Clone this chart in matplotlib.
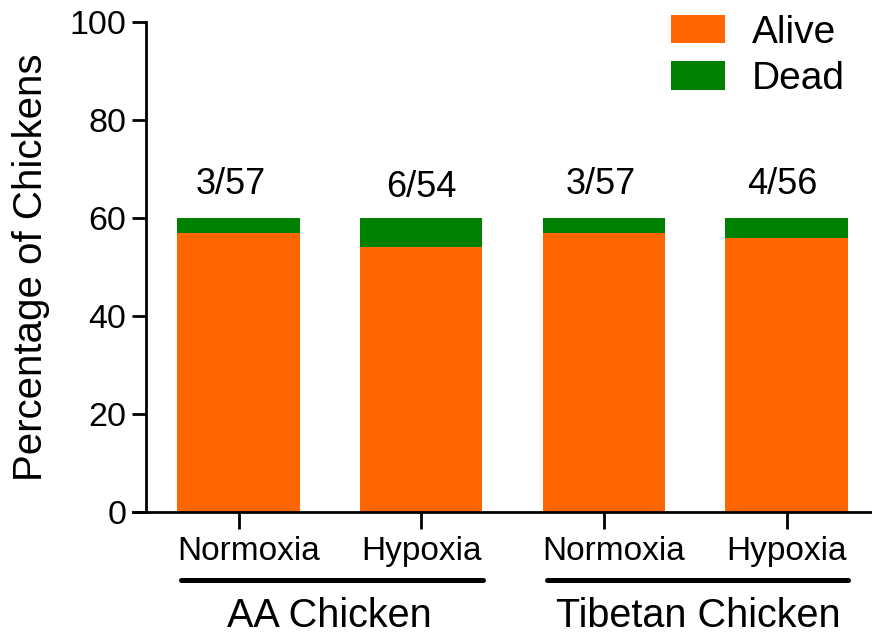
import matplotlib
matplotlib.use("Agg")
import matplotlib.pyplot as plt
import matplotlib.transforms as mtransforms
from matplotlib.patches import Patch
from matplotlib.lines import Line2D

plt.rcParams['font.family'] = ['Liberation Sans', 'DejaVu Sans']

conditions = ["Normoxia", "Hypoxia", "Normoxia", "Hypoxia"]
groups = ["AA Chicken", "Tibetan Chicken"]
alive = [57, 54, 57, 56]
dead = [3, 6, 3, 4]
ratio_labels = ["3/57", "6/54", "3/57", "4/56"]
yticks = [0, 20, 40, 60, 80, 100]

orange = "#FF6600"
green = "#008000"

fig = plt.figure(figsize=(8.72, 6.36), dpi=100)
W, H = 872, 636
ax = fig.add_axes([133 / W, 1 - 512 / H, (871 - 133) / W, (512 - 22) / H])

x = list(range(len(alive)))
bw = 0.67
ax.bar(x, alive, width=bw, color=orange, edgecolor='none')
ax.bar(x, dead, width=bw, bottom=alive, color=green, edgecolor='none')

spacing = 182.67
ax.set_xlim((133 - 238.5) / spacing, (871 - 238.5) / spacing)
ax.set_ylim(0, 100)

# small per-label nudges (pixels) seen in the reference
label_dx = [-8, 0, -3, -4]
label_dy = [0, -3, 0, 0]
for xi, a, d, lab, dx, dy in zip(x, alive, dead, ratio_labels, label_dx, label_dy):
    ax.annotate(lab, (xi, a + d + 4.8), xytext=(dx, dy), textcoords='offset pixels',
                ha='center', va='baseline', fontsize=26)

ax.spines['top'].set_visible(False)
ax.spines['right'].set_visible(False)
ax.spines['left'].set_position(('data', (146 - 238.5) / spacing))
for s in ['left', 'bottom']:
    ax.spines[s].set_linewidth(2)

ax.set_yticks(yticks)
ax.set_yticklabels([str(t) for t in yticks], fontsize=24.5)
ax.set_xticks(x)
ax.set_xticklabels(conditions, fontsize=24)
ax.tick_params(axis='both', width=2, length=10, direction='out')
ax.tick_params(axis='x', length=12, pad=5)
ax.tick_params(axis='y', pad=4)
ax.set_ylabel("Percentage of Chickens", fontsize=29, labelpad=14)

shift = mtransforms.ScaledTranslation(10 / 100, 0, fig.dpi_scale_trans)
for lbl in ax.get_xticklabels():
    if lbl.get_text() == "Normoxia":
        lbl.set_transform(lbl.get_transform() + shift)

def fx(px):
    return px / W
def fy(py):
    return 1 - py / H

fig.add_artist(Line2D([fx(181), fx(483)], [fy(580), fy(580)], color='black', lw=3.6,
                      solid_capstyle='round'))
fig.add_artist(Line2D([fx(547), fx(848)], [fy(580), fy(580)], color='black', lw=3.6,
                      solid_capstyle='round'))
fig.text(fx(329), fy(627), groups[0], ha='center', va='baseline', fontsize=28.5)
fig.text(fx(698), fy(627), groups[1], ha='center', va='baseline', fontsize=28.5)

handles = [Patch(facecolor=orange, edgecolor='none'), Patch(facecolor=green, edgecolor='none')]
fig.legend(handles, ["Alive", "Dead"], loc='upper left', bbox_to_anchor=(fx(663), fy(7)),
           frameon=False, fontsize=28, handlelength=1.39, handleheight=0.75,
           handletextpad=0.7, labelspacing=0.26, borderaxespad=0, borderpad=0.2)

fig.savefig("out.png", dpi=100)
